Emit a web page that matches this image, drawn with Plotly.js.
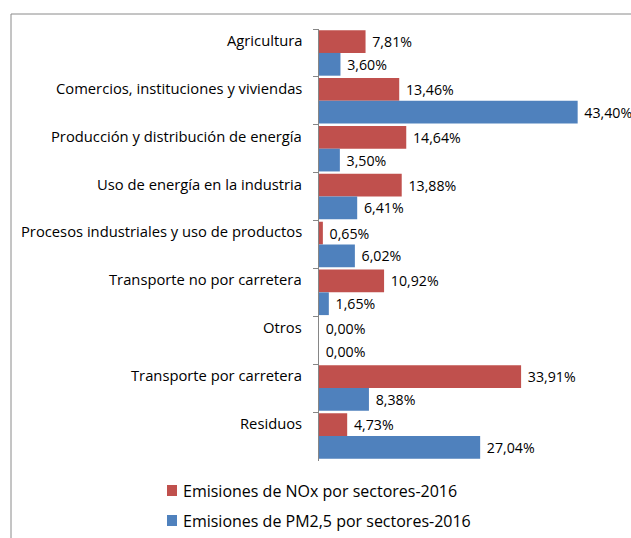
<!DOCTYPE html>
<html>
<head>
<meta charset="utf-8">
<script src="https://cdn.plot.ly/plotly-3.0.1.min.js"></script>
<style>html,body{margin:0;padding:0;background:#fff;}#chart{width:631px;height:538px;}</style>
</head>
<body>
<div id="chart"></div>
<script>
const categories = [
  "Agricultura",
  "Comercios, instituciones y viviendas",
  "Producción y distribución de energía",
  "Uso de energía en la industria",
  "Procesos industriales y uso de productos",
  "Transporte no por carretera",
  "Otros",
  "Transporte por carretera",
  "Residuos"
];
const noxValues = [7.81, 13.46, 14.64, 13.88, 0.65, 10.92, 0.00, 33.91, 4.73];
const pmValues = [3.60, 43.40, 3.50, 6.41, 6.02, 1.65, 0.00, 8.38, 27.04];
const seriesNames = ["Emisiones de NOx por sectores-2016", "Emisiones de PM2,5 por sectores-2016"];
const seriesColors = ["#C0504D", "#4F81BD"];

const FONT = "'Open Sans', 'Noto Sans', sans-serif";
const pad = "\u00a0";
const fmt = v => pad + v.toFixed(2).replace(".", ",") + "%";

const seriesValues = [noxValues, pmValues];
const traces = seriesValues.map((vals, i) => ({
  type: "bar", orientation: "h", name: seriesNames[i],
  y: categories, x: vals,
  marker: {color: seriesColors[i]},
  text: vals.map(fmt), textposition: "outside", cliponaxis: false,
  textfont: {family: FONT, size: 14.2, color: "#000"},
  hoverinfo: "none", showlegend: false
}));

// category labels (Excel-style: aligned with the upper bar of each group)
const catAnnotations = categories.map(c => ({
  text: c, xref: "paper", x: 0, xanchor: "right", xshift: -15,
  yref: "y", y: c, yanchor: "middle", yshift: 13,
  showarrow: false, font: {family: FONT, size: 14.75, color: "#000"}
}));

// legend (drawn below the plot)
const legendAnnotations = seriesNames.map((n, i) => ({
  text: n, xref: "paper", x: 0, xanchor: "left", xshift: -138,
  yref: "paper", y: 0, yanchor: "middle", yshift: -29.5 - 30 * i,
  showarrow: false, font: {family: FONT, size: 16, color: "#000"}
}));
const legendShapes = seriesColors.map((col, i) => ({
  type: "rect", xref: "paper", yref: "paper",
  xsizemode: "pixel", xanchor: 0, x0: -152, x1: -142,
  ysizemode: "pixel", yanchor: 0, y0: -24 - 30 * i, y1: -35 - 30 * i,
  fillcolor: col, line: {width: 0}
}));

const layout = {
  width: 631, height: 538,
  margin: {l: 319, r: 14, t: 29, b: 77},
  paper_bgcolor: "#fff", plot_bgcolor: "#fff",
  separators: ",.",
  barmode: "group", bargap: 0.05, bargroupgap: 0,
  font: {family: FONT, color: "#000"},
  showlegend: false,
  xaxis: {range: [0, 50], showticklabels: false, showgrid: false, zeroline: false, showline: false, ticks: ""},
  yaxis: {
    type: "category", categoryorder: "array", categoryarray: categories,
    autorange: "reversed",
    showline: true, linecolor: "#868686", linewidth: 1,
    ticks: "outside", tickson: "boundaries", ticklen: 5, tickcolor: "#868686",
    showticklabels: false, showgrid: false
  },
  annotations: catAnnotations.concat(legendAnnotations),
  shapes: [{
    type: "rect", xref: "paper", yref: "paper",
    xsizemode: "pixel", xanchor: 0, x0: -308, x1: 400,
    ysizemode: "pixel", yanchor: 0, y0: -120, y1: 447,
    line: {color: "#8a8a8a", width: 1}, fillcolor: "rgba(0,0,0,0)", layer: "below"
  }].concat(legendShapes)
};

Plotly.newPlot("chart", traces, layout, {displayModeBar: false, staticPlot: true});
</script>
</body>
</html>
